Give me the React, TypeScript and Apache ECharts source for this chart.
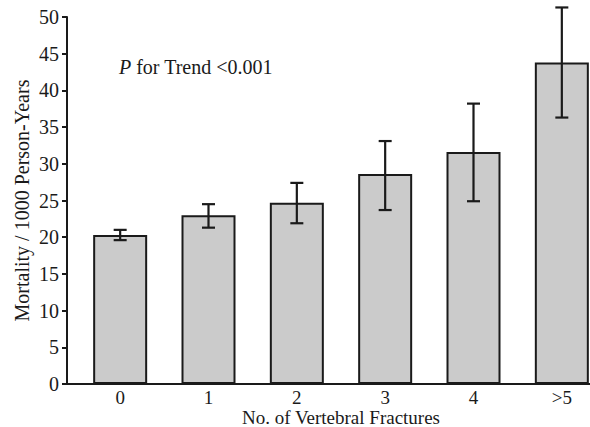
import React, { useEffect, useRef } from "react";
import * as echarts from "echarts";

const categories = ["0", "1", "2", "3", "4", ">5"];
const mortality = [20.3, 23.0, 24.7, 28.6, 31.6, 43.8];
const ciLow = [19.6, 21.3, 21.9, 23.7, 24.9, 36.3];
const ciHigh = [21.0, 24.5, 27.4, 33.1, 38.2, 51.3];
const yTicks = [0, 5, 10, 15, 20, 25, 30, 35, 40, 45, 50];

const FONT = "'Liberation Serif', 'DejaVu Serif', serif";
const INK = "#1a1a1a";

export default function App() {
  const ref = useRef<HTMLDivElement>(null);
  useEffect(() => {
    if (!ref.current) return;
    const chart = echarts.init(ref.current, null, { renderer: "svg" });
    const errData = categories.map((_, i) => [i, ciLow[i], ciHigh[i]]);
    chart.setOption({
      animation: false,
      backgroundColor: "#ffffff",
      textStyle: { fontFamily: FONT, color: INK },
      grid: {
        left: 76,
        right: -16,
        top: 17,
        bottom: 43,
        containLabel: false,
        outerBoundsMode: "none",
      },
      xAxis: {
        type: "category",
        data: categories,
        boundaryGap: true,
        name: "No. of Vertebral Fractures",
        nameLocation: "middle",
        nameGap: 26,
        nameMoveOverlap: false,
        nameTextStyle: { fontFamily: FONT, fontSize: 19, color: INK, lineHeight: 14 },
        axisLine: { lineStyle: { color: INK, width: 2 } },
        axisTick: { show: false },
        axisLabel: { fontFamily: FONT, fontSize: 19, color: INK, margin: 6, lineHeight: 14 },
      },
      yAxis: {
        type: "value",
        min: yTicks[0],
        max: yTicks[yTicks.length - 1],
        interval: 5,
        offset: 9,
        name: "Mortality / 1000 Person-Years",
        nameLocation: "middle",
        nameGap: 35,
        nameMoveOverlap: false,
        nameTextStyle: { fontFamily: FONT, fontSize: 20, color: INK },
        axisLine: { show: true, lineStyle: { color: INK, width: 2 } },
        axisTick: { show: true, length: 5, lineStyle: { color: INK, width: 2 } },
        axisLabel: { fontFamily: FONT, fontSize: 20, color: INK, margin: 8 },
        splitLine: { show: false },
      },
      graphic: [
        {
          type: "line",
          shape: { x1: 66, y1: 384, x2: 77, y2: 384 },
          style: { stroke: INK, lineWidth: 2 },
        },
        {
          type: "text",
          x: 119,
          y: 67,
          style: {
            text: "{i|P} for Trend <0.001",
            fontFamily: FONT,
            fontSize: 20,
            fill: INK,
            verticalAlign: "middle",
            rich: { i: { fontStyle: "italic", fontFamily: FONT, fontSize: 20, fill: INK } },
          },
        },
      ],
      series: [
        {
          type: "bar",
          data: mortality,
          barWidth: 54,
          itemStyle: { color: "#cbcbcb", borderColor: INK, borderWidth: 2 },
        },
        {
          type: "custom",
          clip: false,
          data: errData,
          encode: { x: 0, y: [1, 2] },
          renderItem: (params: any, api: any) => {
            const x = api.value(0);
            const lo = api.coord([x, api.value(1)]);
            const hi = api.coord([x, api.value(2)]);
            const hw = 6.5;
            const style = { stroke: INK, lineWidth: 2.2, fill: "none" };
            return {
              type: "group",
              children: [
                { type: "line", shape: { x1: lo[0], y1: lo[1], x2: hi[0], y2: hi[1] }, style },
                { type: "line", shape: { x1: lo[0] - hw, y1: lo[1], x2: lo[0] + hw, y2: lo[1] }, style },
                { type: "line", shape: { x1: hi[0] - hw, y1: hi[1], x2: hi[0] + hw, y2: hi[1] }, style },
              ],
            };
          },
          z: 5,
        },
      ],
    });
    return () => chart.dispose();
  }, []);
  return (
    <div style={{ position: "absolute", left: 0, top: 0, width: 590, height: 427, overflow: "hidden" }}>
      <div ref={ref} style={{ width: 590, height: 427 }} />
    </div>
  );
}
